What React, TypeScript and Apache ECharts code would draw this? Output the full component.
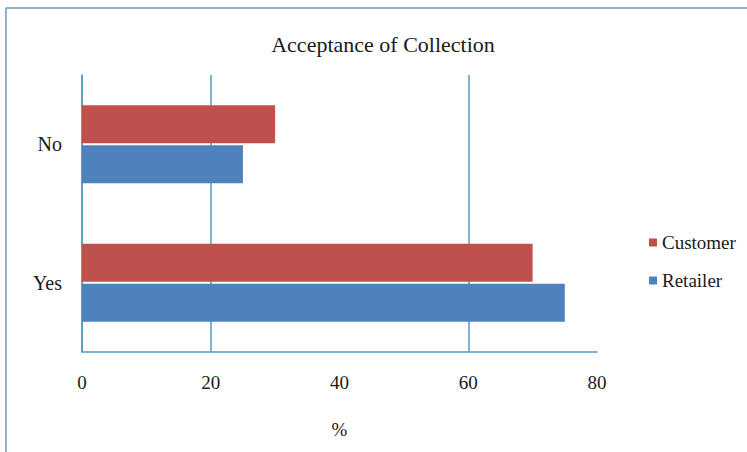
import React, { useEffect, useRef } from "react";
import * as echarts from "echarts";

const categories = ["Yes", "No"];
const customerValues = [70, 30];
const retailerValues = [75, 25];
const xTicks = [0, 20, 40, 60, 80];
const legendNames = ["Customer", "Retailer"];
const seriesColors = ["#c0504d", "#4f81bd"];
const titleText = "Acceptance of Collection";
const axisName = "%";

const SERIF = "Liberation Serif";
const LINE = "#4f9cc4";

export default function App() {
  const ref = useRef<HTMLDivElement>(null);
  useEffect(() => {
    if (!ref.current) return;
    const chart = echarts.init(ref.current, undefined, { renderer: "svg" });
    chart.setOption({
      animation: false,
      backgroundColor: "#ffffff",
      textStyle: { fontFamily: SERIF, color: "#1a1a1a" },
      title: {
        text: titleText,
        left: 378,
        textAlign: "center",
        top: 28,
        textStyle: { fontFamily: SERIF, fontSize: 22, fontWeight: "normal", color: "#1a1a1a" },
      },
      graphic: [
        { type: "line", shape: { x1: 6, y1: 8, x2: 747, y2: 8 }, style: { stroke: "#6e9ab5", lineWidth: 1.5 } },
        { type: "line", shape: { x1: 6, y1: 8, x2: 6, y2: 452 }, style: { stroke: "#6e9ab5", lineWidth: 1.5 } },
      ],
      legend: {
        orient: "vertical",
        left: 644,
        top: 228,
        itemWidth: 8,
        itemHeight: 8,
        itemGap: 19,
        icon: "rect",
        data: legendNames,
        textStyle: {
          font: "normal normal 19px 'Liberation Serif', 'Times New Roman', serif",
          fontFamily: "'Liberation Serif', 'Times New Roman', serif",
          fontSize: 19,
          color: "#1a1a1a",
        },
      },
      grid: { left: 82, right: 150, top: 75, bottom: 100, containLabel: false },
      xAxis: {
        type: "value",
        min: xTicks[0],
        max: xTicks[xTicks.length - 1],
        interval: 20,
        name: axisName,
        nameLocation: "middle",
        nameGap: 68,
        nameTextStyle: { fontFamily: SERIF, fontSize: 19, color: "#1a1a1a" },
        axisLine: { show: true, lineStyle: { color: LINE, width: 1.5 } },
        axisTick: { show: false },
        axisLabel: { fontFamily: SERIF, fontSize: 19, color: "#1a1a1a", margin: 21 },
        splitLine: {
          show: true,
          lineStyle: { color: [LINE, LINE, "rgba(0,0,0,0)", LINE, "rgba(0,0,0,0)"], width: 1.5 },
        },
      },
      yAxis: {
        type: "category",
        data: categories,
        axisLine: { show: true, lineStyle: { color: LINE, width: 1.5 } },
        axisTick: { show: false },
        axisLabel: { fontFamily: SERIF, fontSize: 20, color: "#1a1a1a", margin: 20 },
      },
      series: [
        {
          name: legendNames[0],
          type: "bar",
          data: customerValues,
          barWidth: 38,
          barGap: "5%",
          itemStyle: { color: seriesColors[0] },
        },
        {
          name: legendNames[1],
          type: "bar",
          data: retailerValues,
          barWidth: 38,
          barGap: "5%",
          itemStyle: { color: seriesColors[1] },
        },
      ],
    });
    return () => chart.dispose();
  }, []);
  return (
    <div
      ref={ref}
      style={{ position: "absolute", left: 0, top: 0, width: 747, height: 452 }}
    />
  );
}
